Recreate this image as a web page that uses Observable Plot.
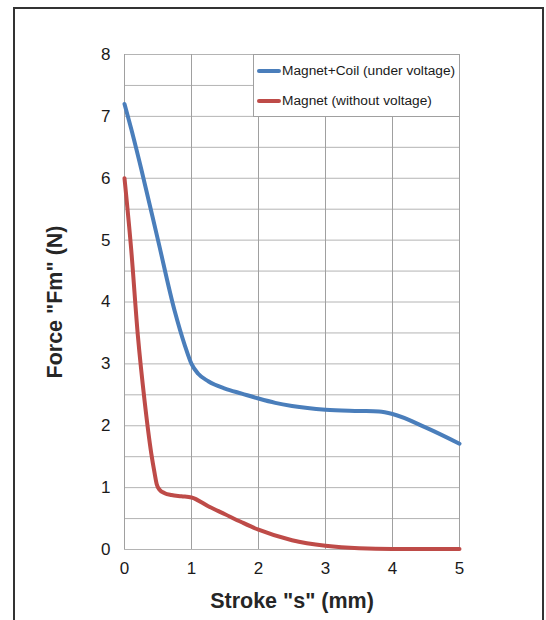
<!DOCTYPE html>
<html>
<head>
<meta charset="utf-8">
<script src="https://cdn.jsdelivr.net/npm/d3@7"></script>
<script src="https://cdn.jsdelivr.net/npm/@observablehq/plot@0.6"></script>
<style>
  html, body { margin: 0; padding: 0; background: #fff; overflow: hidden; }
  #wrap { position: relative; width: 546px; height: 620px; }
  #frame { position: absolute; left: 13px; top: 7px; width: 527px; height: 700px; border: 2px solid #333; box-sizing: content-box; pointer-events: none; }
  #legend { position: absolute; left: 253px; top: 54px; width: 205px; height: 61px; background: #fff; border: 1px solid #a0a0a0; font-family: "Liberation Sans", Arial, sans-serif; font-size: 13.7px; color: #1a1a1a; }
  .item { position: absolute; left: 3px; display: flex; align-items: center; white-space: nowrap; }
  .sw { width: 24px; height: 4px; border-radius: 2px; margin-right: 1px; }
</style>
</head>
<body>
<div id="wrap">
  <div id="chart"></div>
  <div id="legend"></div>
  <div id="frame"></div>
</div>
<script>
// Series names and colours
const seriesNames = ["Magnet+Coil (under voltage)", "Magnet (without voltage)"];
const seriesColors = ["#4a7ebb", "#be4b48"];

// Magnet+Coil (under voltage)
const strokeCoil = [0, 0.1, 0.25, 0.5, 0.75, 0.9, 1.0, 1.1, 1.25, 1.5, 1.75, 2.0, 2.25, 2.5, 3.0, 3.5, 3.8, 4.0, 4.5, 5.0];
const forceCoil  = [7.2, 6.8, 6.15, 5.0, 3.85, 3.3, 3.0, 2.84, 2.72, 2.6, 2.52, 2.44, 2.37, 2.32, 2.26, 2.24, 2.23, 2.19, 1.97, 1.71];

// Magnet (without voltage)
const strokeMag = [0, 0.1, 0.2, 0.3, 0.4, 0.45, 0.48, 0.52, 0.6, 0.7, 0.85, 1.0, 1.25, 1.5, 1.75, 2.0, 2.5, 3.0, 3.5, 4.0, 5.0];
const forceMag  = [6.0, 4.85, 3.45, 2.4, 1.55, 1.23, 1.06, 0.97, 0.91, 0.88, 0.86, 0.84, 0.7, 0.57, 0.44, 0.32, 0.15, 0.06, 0.02, 0.01, 0.01];

// Axis ticks
const xTicks = [0, 1, 2, 3, 4, 5];
const yTicks = [0, 1, 2, 3, 4, 5, 6, 7, 8];
const yGrid = d3.range(0, 8.01, 0.5);
const xLabel = 'Stroke "s" (mm)';
const yLabel = 'Force "Fm" (N)';

const coil = strokeCoil.map((s, i) => ({s, f: forceCoil[i]}));
const mag = strokeMag.map((s, i) => ({s, f: forceMag[i]}));

const plot = Plot.plot({
  width: 546,
  height: 620,
  marginLeft: 124,
  marginRight: 87,
  marginTop: 54,
  marginBottom: 71,
  style: { fontFamily: '"Liberation Sans", Arial, sans-serif', fontSize: "17px", color: "#1a1a1a", background: "transparent" },
  x: { domain: [0, 5] },
  y: { domain: [0, 8] },
  marks: [
    Plot.ruleY(yGrid, { stroke: "#b4b4b4", strokeWidth: 1 }),
    Plot.ruleX(xTicks, { stroke: "#a0a0a0", strokeWidth: 1 }),
    Plot.axisY(yTicks, { tickSize: 0, tickPadding: 14, label: null, fontSize: 17, tickFormat: d3.format("d") }),
    Plot.axisX(xTicks, { tickSize: 0, tickPadding: 12, label: null, fontSize: 17, tickFormat: d3.format("d") }),
    Plot.line(mag, { x: "s", y: "f", stroke: seriesColors[1], strokeWidth: 4, curve: "monotone-x" }),
    Plot.line(coil, { x: "s", y: "f", stroke: seriesColors[0], strokeWidth: 4, curve: "monotone-x" }),
    Plot.text([yLabel], { frameAnchor: "left", dx: -69, rotate: -90, textAnchor: "middle", lineAnchor: "middle", fontSize: 21.5, fontWeight: "bold", fill: "#262626" }),
    Plot.text([xLabel], { frameAnchor: "bottom", dy: 52, textAnchor: "middle", lineAnchor: "middle", fontSize: 21.5, fontWeight: "bold", fill: "#262626" })
  ]
});
document.getElementById("chart").appendChild(plot);

const legend = document.getElementById("legend");
seriesNames.forEach((name, i) => {
  const it = document.createElement("div");
  it.className = "item";
  it.style.top = (i === 0 ? 8 : 38) + "px";
  it.innerHTML = `<span class="sw" style="background:${seriesColors[i]}"></span><span>${name}</span>`;
  legend.appendChild(it);
});
</script>
</body>
</html>
